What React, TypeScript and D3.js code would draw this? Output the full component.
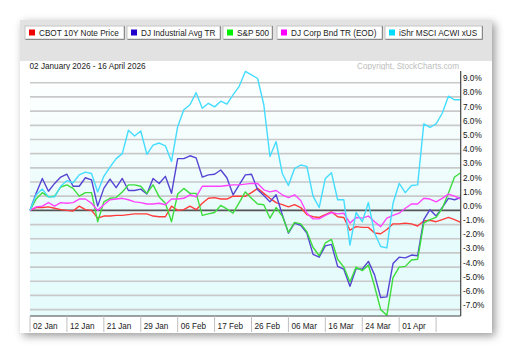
import React from 'react';
import * as d3 from 'd3';

// % change since 02 Jan 2026, one value per trading day (71 days)
const cbot10y = [
  0, 0.2, 0.2, 0.25, 0.15, 0.05, 0, -0.05, 0.3, 0.05,
  0, -0.55, -0.4, -0.4, -0.35, -0.35, -0.3, -0.25, -0.25, -0.25,
  -0.4, -0.45, -0.45, 0.3, 0.0, 0.05, 0.3, 0.05, 0.5, 0.85,
  0.9, 0.8, 0.8, 1.0, 1.0, 1.0, 1.25, 1.55, 1.2, 0.85,
  0.55, 0.4, 0.25, 0.4, 0.2, -0.3, -0.45, -0.5, -0.3, -0.1,
  -0.45, -0.5, -1.4, -1.15, -1.2, -1.2, -1.6, -1.65, -1.35, -0.95,
  -0.95, -0.9, -0.95, -1.1, -0.75, -0.7, -0.8, -0.65, -0.5, -0.65, -0.85,
];
const djIndustrial = [
  0, 1.2, 2.25, 1.35, 1.9, 2.35, 2.55, 1.7, 1.7, 2.3,
  2.15, 0.3, 1.55, 2.2, 1.6, 2.25, 1.4, 1.4, 1.5, 1.15,
  2.25, 1.9, 2.4, 1.2, 3.65, 3.65, 3.85, 3.7, 2.35, 2.5,
  2.55, 2.85, 2.3, 1.1, 1.8, 2.5, 2.55, 1.45, 1.05, 0.6,
  1.1, -0.3, -1.6, -0.9, -1.05, -1.6, -3.1, -3.3, -2.5, -2.4,
  -3.95, -4.15, -5.35, -4.1, -4.15, -3.6, -4.55, -6.15, -6.1, -3.75,
  -3.3, -3.35, -3.15, -3.2, -0.65, 0.05, -0.4, 0.2, 0.85, 0.75, 0.9,
];
const sp500 = [
  0, 0.8, 1.25, 0.95, 1.0, 1.65, 1.8, 1.55, 1.0, 1.25,
  1.25, -0.8, 0.6, 0.85, 0.9, 1.3, 1.8, 1.8, 1.7, 1.2,
  1.8, 0.95, 0.5, -0.8, 1.15, 1.55, 1.2, 1.2, -0.35, -0.25,
  -0.15, 0.35, 0.1, -0.2, 0.55, 1.3, 0.85, 0.45, 0.4, -0.55,
  0.2, -0.4, -1.55, -0.85, -0.95, -1.5, -2.6, -3.2, -2.3, -2.05,
  -3.45, -4.0, -5.05, -4.0, -4.25, -3.85, -5.35, -7.0, -7.4, -4.75,
  -4.0, -3.95, -3.5, -3.45, -0.9, -0.65, -0.5, 0.15, 1.2, 2.35, 2.65,
];
const djCorpBond = [
  0, 0.25, 0.3, 0.55, 0.3, 0.55, 0.5, 0.55, 0.8, 0.8,
  0.5, 0.0, 0.4, 0.75, 0.8, 0.85, 0.75, 0.6, 0.55, 0.45,
  0.45, 0.5, 0.4, 0.8, 0.8, 0.85, 1.1, 0.95, 1.7, 1.7,
  1.7, 1.7, 1.75, 1.8, 1.8, 1.85, 1.9, 1.9, 1.45, 1.3,
  1.4, 1.1, 0.9, 1.1, 0.7, -0.2, -0.6, -0.6, -0.35, -0.15,
  -0.25, -0.2, -0.9, -0.5, -0.55, -0.4, -0.8, -1.15, -0.55, -0.35,
  -0.2, 0.15, 0.45, 0.45, 0.85, 0.8, 0.6, 0.85, 1.15, 1.0, 0.8,
];
const acwiExUs = [
  0, 1.1, 1.5, 0.95, 0.95, 1.7, 2.1, 1.95, 2.5, 2.7,
  2.6, 1.3, 2.4, 3.05, 3.65, 4.0, 5.65, 5.25, 5.6, 3.95,
  4.6, 4.75, 4.55, 3.45, 5.9, 7.1, 7.45, 8.3, 7.2, 7.55,
  7.3, 7.7, 7.5, 8.15, 8.75, 9.8, 9.55, 9.3, 7.45, 3.8,
  4.85, 2.6, 1.75, 2.95, 3.2, 3.1, 1.0, 0.2, 2.25, 2.65,
  0.75, 0.75, -2.45, -0.15, -0.8, 0.55, -1.6, -2.55, -2.65, 0.5,
  1.9, 1.25, 1.75, 1.8, 6.1, 5.85, 6.1, 6.85, 8.05, 7.8, 7.8,
];

const seriesNames = ['CBOT 10Y Note Price', 'DJ Industrial Avg TR', 'S&P 500', 'DJ Corp Bnd TR (EOD)', 'iShr MSCI ACWI xUS'];
const seriesData = [cbot10y, djIndustrial, sp500, djCorpBond, acwiExUs];
const swatchColors = ['#ee0000', '#2200cc', '#00ee00', '#ff00ff', '#00dcff'];
const lineColors = ['#ff3c3c', '#5544d4', '#3ddd3d', '#ff44ff', '#44dcff'];

// x-axis labels every 6 trading days
const xTickIndex = [0, 6, 12, 18, 24, 30, 36, 42, 48, 54, 60, 66];
const xTickLabels = ['02 Jan', '12 Jan', '21 Jan', '29 Jan', '06 Feb', '17 Feb', '26 Feb', '06 Mar', '16 Mar', '24 Mar', '01 Apr', ''];
const yTicks = [-7, -6, -5, -4, -3, -2, -1, 0, 1, 2, 3, 4, 5, 6, 7, 8, 9];

// legend button boxes [x0, x1]
const legendBoxes = [[25, 124], [127, 220], [223, 272], [277, 382], [385, 482]];

const FONT = '"Liberation Sans", Arial, sans-serif';

export default function App() {
  const left = 30;
  const right = 460.7;
  const top = 70;
  const bottom = 316;

  const x = d3.scaleLinear().domain([0, 70]).range([left, right]);
  const y = d3.scaleLinear().domain([-7.45, 9.9]).range([bottom, top]);

  const line = d3
    .line<number>()
    .x((_, i) => x(i))
    .y((d) => y(d));

  return (
    <div style={{ position: 'absolute', left: 0, top: 0 }}>
      <svg width={511} height={353} style={{ display: 'block', fontFamily: FONT }}>
        <defs>
          <filter id="shadow" x="-10%" y="-10%" width="120%" height="120%">
            <feDropShadow dx="3" dy="3" stdDeviation="4" floodColor="#000" floodOpacity="0.4" />
          </filter>
          <linearGradient id="plotBg" x1="0" y1="0" x2="0" y2="1">
            <stop offset="0%" stopColor="#ffffff" />
            <stop offset="45%" stopColor="#eefcfc" />
            <stop offset="60%" stopColor="#e6fbfb" />
            <stop offset="100%" stopColor="#e6fbfb" />
          </linearGradient>
        </defs>

        {/* card */}
        <rect x={20} y={20} width={472} height={313} fill="#fff" filter="url(#shadow)" />
        <rect x={20} y={20} width={472} height={41} fill="#e2e2e2" />

        {/* legend */}
        {seriesNames.map((name, i) => {
          const [x0, x1] = legendBoxes[i];
          return (
            <g key={name}>
              <rect x={x0} y={26} width={x1 - x0} height={13} fill="#fff" stroke="#c4c4c4" strokeWidth={1} />
              <path d={`M${x0 + 0.5},39.5 H${x1 + 0.5} V26`} fill="none" stroke="#8a8a8a" strokeWidth={1} />
              <rect x={x0 + 4} y={29.5} width={6} height={6} fill={swatchColors[i]} />
              <text x={x0 + 14} y={35.8} fontSize={8.2} fill="#222">
                {name}
              </text>
            </g>
          );
        })}

        {/* header texts */}
        <text x={29.5} y={68.5} fontSize={8.2} fill="#222">
          02 January 2026 - 16 April 2026
        </text>
        <text x={459} y={68.5} fontSize={8.2} fill="#bdbdbd" textAnchor="end">
          Copyright, StockCharts.com
        </text>

        {/* plot background */}
        <rect x={left} y={top} width={right - left} height={bottom - top} fill="url(#plotBg)" />

        {/* grid */}
        {yTicks.map((t) => (
          <line
            key={t}
            x1={left}
            x2={right}
            y1={y(t)}
            y2={y(t)}
            stroke={t === 0 ? '#555' : '#c9c9c9'}
            strokeWidth={t === 0 ? 1.6 : 1.7}
          />
        ))}

        {/* series */}
        {seriesData.map((d, i) => (
          <path key={seriesNames[i]} d={line(d) ?? ''} fill="none" stroke={lineColors[i]} strokeWidth={1.4} strokeLinejoin="round" />
        ))}

        {/* right axis */}
        <line x1={right} x2={right} y1={top + 1} y2={bottom} stroke="#444" strokeWidth={1.2} />
        {yTicks.map((t) => (
          <text key={t} x={463} y={y(t) - 1.5} fontSize={8.2} fill="#111">
            {`${t.toFixed(1)}%`}
          </text>
        ))}

        {/* bottom axis */}
        <line x1={left} x2={right} y1={bottom} y2={bottom} stroke="#444" strokeWidth={1.2} />
        {xTickIndex.map((idx, i) => (
          <g key={idx}>
            <line x1={x(idx)} x2={x(idx)} y1={bottom} y2={332} stroke="#c0c0c0" strokeWidth={1} />
            <text x={x(idx) + 3} y={329} fontSize={8.2} fill="#222">
              {xTickLabels[i]}
            </text>
          </g>
        ))}
      </svg>
    </div>
  );
}
